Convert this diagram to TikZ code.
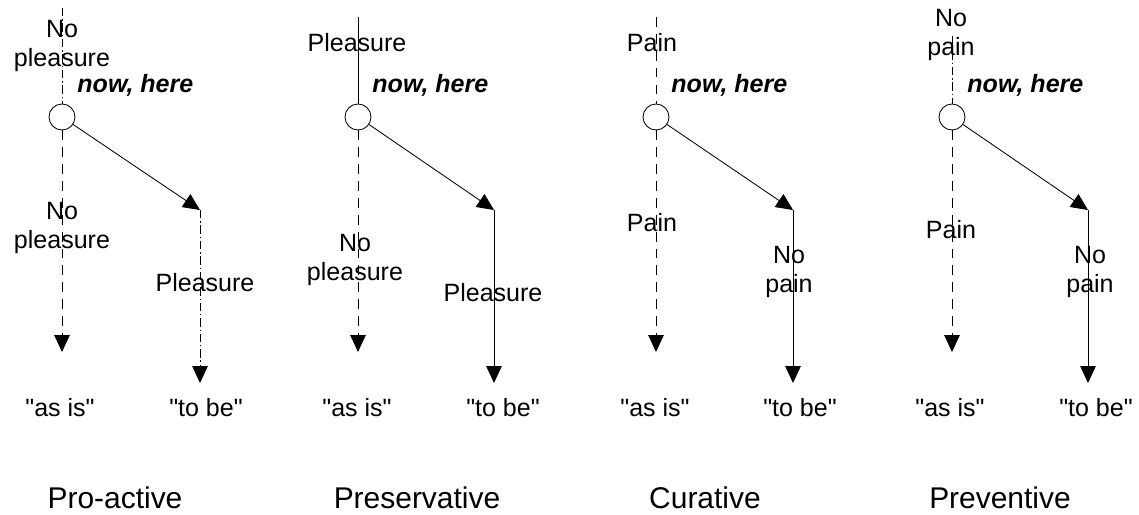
\documentclass[tikz,border=0pt]{standalone}
\usepackage{fontspec}
\setmainfont{Liberation Sans}
\usetikzlibrary{arrows.meta}

\begin{document}
\begin{tikzpicture}[x=0.025cm, y=-0.025cm, line width=0.6pt,
    >={Triangle[length=12pt, width=11pt]},
    every node/.style={inner sep=0pt, font=\fontsize{17.8}{21.3}\selectfont},
    txt/.style={align=center},
    now/.style={anchor=west, font=\fontsize{17.8}{21.3}\selectfont\bfseries\itshape},
    state/.style={circle, draw, minimum size=0.65cm},
    asis/.style={dash pattern=on 7pt off 5pt},
    dashdot/.style={dash pattern=on 6pt off 2pt on 1pt off 2pt},
    kind/.style={font=\fontsize{21.3}{25}\selectfont}]
    \useasboundingbox[fill=white] (0,0) rectangle (1139,514);

    \node[txt] (top1) at (62,46){No\\pleasure};
    \node[now] (now1) at (77,85){now, here};
    \node[state] (c1) at (62,117){};
    \coordinate (s1) at (62,8);
    \coordinate (t1) at (200,210);
    \coordinate (a1) at (62,352);
    \coordinate (b1) at (200,383);
    \node[txt] (low1) at (62,228){No\\pleasure};
    \node (right1) at (205,283){Pleasure};
    \node (as1) at (60,408){\textquotedbl as is\textquotedbl};
    \node (be1) at (206,408){\textquotedbl to be\textquotedbl};
    \node[kind] (k1) at (115,498){Pro-active};
    \draw[dashdot] (s1)--(c1);
    \draw[->] (c1)--(t1);
    \draw[->, asis] (c1)--(a1);
    \draw[->, dashdot] (t1)--(b1);

    \node (top2) at (357,43){Pleasure};
    \node[now] (now2) at (372,85){now, here};
    \node[state] (c2) at (358,117){};
    \coordinate (s2) at (358,17);
    \coordinate (t2) at (494,210);
    \coordinate (a2) at (358,352);
    \coordinate (b2) at (494,383);
    \node[txt] (low2) at (355,260){No\\pleasure};
    \node (right2) at (493,293){Pleasure};
    \node (as2) at (357,408){\textquotedbl as is\textquotedbl};
    \node (be2) at (503,408){\textquotedbl to be\textquotedbl};
    \node[kind] (k2) at (417,498){Preservative};
    \draw (s2)--(c2);
    \draw[->] (c2)--(t2);
    \draw[->, asis] (c2)--(a2);
    \draw[->] (t2)--(b2);

    \node (top3) at (652,43){Pain};
    \node[now] (now3) at (671,85){now, here};
    \node[state] (c3) at (656,117){};
    \coordinate (s3) at (656,17);
    \coordinate (t3) at (793,210);
    \coordinate (a3) at (656,352);
    \coordinate (b3) at (793,383);
    \node (low3) at (652,223){Pain};
    \node[txt] (right3) at (789,272){No\\pain};
    \node (as3) at (655,408){\textquotedbl as is\textquotedbl};
    \node (be3) at (800,408){\textquotedbl to be\textquotedbl};
    \node[kind] (k3) at (705,498){Curative};
    \draw[asis] (s3)--(c3);
    \draw[->] (c3)--(t3);
    \draw[->, asis] (c3)--(a3);
    \draw[->] (t3)--(b3);

    \node[txt] (top4) at (951,35){No\\pain};
    \node[now] (now4) at (967,85){now, here};
    \node[state] (c4) at (952,117){};
    \coordinate (s4) at (952,36);
    \coordinate (t4) at (1088,210);
    \coordinate (a4) at (952,352);
    \coordinate (b4) at (1088,383);
    \node (low4) at (951,230){Pain};
    \node[txt] (right4) at (1090,272){No\\pain};
    \node (as4) at (950,408){\textquotedbl as is\textquotedbl};
    \node (be4) at (1096,408){\textquotedbl to be\textquotedbl};
    \node[kind] (k4) at (1000,498){Preventive};
    \draw[dashdot] (s4)--(c4);
    \draw[->] (c4)--(t4);
    \draw[->, asis] (c4)--(a4);
    \draw[->] (t4)--(b4);
\end{tikzpicture}
\end{document}
